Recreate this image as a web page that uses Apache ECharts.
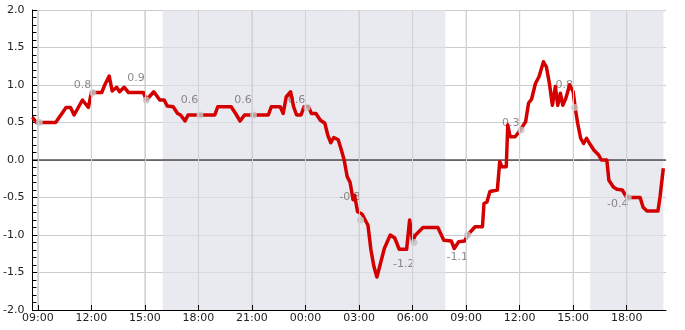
<!DOCTYPE html>
<html><head><meta charset="utf-8">
<script src="https://cdn.jsdelivr.net/npm/echarts@6/dist/echarts.min.js"></script>
<style>html,body{margin:0;padding:0;background:#fff}#c{width:685px;height:330px}</style>
</head><body><div id="c"></div>
<script>
// ---- data (day 1 / day 2, HH:MM) ----
const lineTimes = ['1 08:42','1 08:55','1 10:00','1 10:35','1 10:50','1 11:02','1 11:30','1 11:50','1 12:00','1 12:35','1 12:45','1 13:00','1 13:10','1 13:25','1 13:35','1 13:50','1 14:05','1 14:55','1 15:05','1 15:30','1 15:50','1 16:05','1 16:15','1 16:35','1 16:50','1 17:00','1 17:15','1 17:25','1 18:55','1 19:05','1 19:50','1 20:05','1 20:20','1 20:35','1 21:55','1 22:05','1 22:35','1 22:45','1 22:55','1 23:10','1 23:20','1 23:30','1 23:45','1 23:55','2 00:10','2 00:20','2 00:35','2 00:50','2 01:05','2 01:15','2 01:25','2 01:35','2 01:50','2 02:00','2 02:10','2 02:20','2 02:30','2 02:40','2 02:45','2 02:55','2 03:10','2 03:30','2 03:40','2 03:50','2 04:00','2 04:12','2 04:25','2 04:45','2 05:00','2 05:15','2 05:40','2 05:50','2 06:00','2 06:10','2 06:35','2 07:25','2 07:45','2 08:10','2 08:20','2 08:35','2 08:55','2 09:05','2 09:30','2 09:55','2 10:00','2 10:10','2 10:20','2 10:45','2 10:53','2 11:00','2 11:15','2 11:20','2 11:28','2 11:45','2 12:02','2 12:20','2 12:30','2 12:40','2 12:53','2 13:05','2 13:20','2 13:30','2 13:40','2 13:50','2 14:00','2 14:08','2 14:17','2 14:25','2 14:35','2 14:48','2 15:00','2 15:07','2 15:15','2 15:25','2 15:35','2 15:45','2 15:55','2 16:10','2 16:25','2 16:35','2 16:53','2 17:00','2 17:15','2 17:27','2 17:45','2 18:00','2 18:45','2 18:55','2 19:08','2 19:45','2 19:52','2 20:03'];
const lineValues = [0.57,0.5,0.5,0.7,0.7,0.6,0.8,0.7,0.9,0.9,1.0,1.12,0.92,0.97,0.91,0.97,0.9,0.9,0.8,0.91,0.8,0.8,0.72,0.71,0.62,0.6,0.52,0.6,0.6,0.71,0.71,0.62,0.52,0.6,0.6,0.71,0.71,0.62,0.84,0.91,0.71,0.6,0.6,0.71,0.71,0.62,0.62,0.53,0.49,0.33,0.23,0.3,0.27,0.14,0.0,-0.22,-0.3,-0.53,-0.47,-0.69,-0.72,-0.87,-1.2,-1.42,-1.56,-1.38,-1.18,-1.0,-1.04,-1.19,-1.19,-0.8,-1.08,-1.0,-0.9,-0.9,-1.07,-1.08,-1.18,-1.09,-1.08,-1.0,-0.89,-0.89,-0.58,-0.56,-0.42,-0.4,-0.02,-0.09,-0.09,0.47,0.31,0.31,0.4,0.51,0.76,0.81,1.02,1.11,1.31,1.24,1.02,0.73,0.98,0.73,0.89,0.73,0.82,1.0,0.91,0.69,0.49,0.29,0.22,0.29,0.22,0.13,0.07,0.0,0.0,-0.27,-0.36,-0.39,-0.4,-0.5,-0.5,-0.63,-0.68,-0.68,-0.49,-0.11];
const dotTimes = ['1 09:05','1 12:05','1 15:05','1 18:05','1 21:05','2 00:05','2 03:05','2 06:05','2 09:05','2 12:05','2 15:05','2 18:05'];
const dotValues = [0.5,0.9,0.8,0.6,0.6,0.7,-0.8,-1.1,-1.0,0.4,0.7,-0.5];
const labelTimes = ['1 11:30','1 14:30','1 17:30','1 20:30','1 23:30','2 02:30','2 05:30','2 08:30','2 11:30','2 14:30','2 17:30'];
const labelValues = [0.8,0.9,0.6,0.6,0.6,-0.3,-1.2,-1.1,0.3,0.8,-0.4];
const shadeStarts = ['1 16:00','2 15:57'];
const shadeEnds = ['2 07:50','2 20:03'];
const tickTimes = ['1 09:00','1 12:00','1 15:00','1 18:00','1 21:00','2 00:00','2 03:00','2 06:00','2 09:00','2 12:00','2 15:00','2 18:00'];
const axisMin = '1 08:42', axisMax = '2 20:12';
const yMin = -2, yMax = 2, yStep = 0.5;

function ts(s){ const d=+s[0]; const hm=s.slice(2).split(':'); return new Date(2024,0,d,+hm[0],+hm[1]).getTime(); }
function pad(n){ return (n<10?'0':'')+n; }
const FONT = 'DejaVu Sans';
const tickVals = tickTimes.map(ts);

const chart = echarts.init(document.getElementById('c'), null, {renderer:'canvas'});
chart.setOption({
  animation:false,
  grid:{left:31,right:19,top:10,bottom:20},
  xAxis:{
    type:'value', min:ts(axisMin), max:ts(axisMax), position:'bottom', z:10,
    axisLine:{show:true,onZero:false,lineStyle:{color:'#000',width:1}},
    axisTick:{show:true,inside:true,length:5,customValues:tickVals,lineStyle:{color:'#000'}},
    axisLabel:{color:'#222',fontSize:11,fontFamily:FONT,margin:3,customValues:tickVals,
      formatter:function(v){const d=new Date(v);return pad(d.getHours())+':'+pad(d.getMinutes());}},
    splitLine:{show:true,customValues:tickVals,lineStyle:{color:'#d2d2d6',width:1}}
  },
  yAxis:{
    type:'value', min:yMin, max:yMax, interval:yStep, z:0,
    axisLine:{show:true,onZero:false,lineStyle:{color:'#000'}},
    axisTick:{show:true,inside:true,length:5,lineStyle:{color:'#000'}},
    minorTick:{show:true,splitNumber:5,length:4,lineStyle:{color:'#000'}},
    axisLabel:{color:'#222',fontSize:11,fontFamily:FONT,margin:8,formatter:function(v){return v.toFixed(1);}},
    splitLine:{show:true,lineStyle:{color:'#cccccc',width:1}}
  },
  series:[
    { type:'custom', z:1,
      data:tickVals.map(v=>[v,0]), encode:{x:0,y:1},
      renderItem:function(params, api){
        const top = api.coord([api.value(0), yMax]);
        const bot = api.coord([api.value(0), yMin]);
        return {type:'line', shape:{x1:top[0],y1:top[1],x2:top[0],y2:bot[1]},
          style:{stroke:'#cccccc',lineWidth:1}};
      } },
    { type:'line', z:1, silent:true, symbol:'none', showSymbol:false,
      lineStyle:{color:'#000',width:1},
      data:[[ts(axisMin),0],[ts(axisMax),0]] },
    { type:'line', data:[], z:2, silent:true,
      markArea:{silent:true,itemStyle:{color:'rgba(224,224,234,0.7)'},
        data:shadeStarts.map((s,i)=>[{xAxis:ts(s)},{xAxis:ts(shadeEnds[i])}])} },
    { type:'scatter', z:3, symbolSize:0, silent:true,
      data:labelTimes.map((t,i)=>({value:[ts(t),labelValues[i]],
        label:{position:labelValues[i]<0?'bottom':'top'}})),
      label:{show:true,distance:9,color:'#6e6e6e',fontSize:11,fontFamily:FONT,
        formatter:function(p){return p.value[1].toFixed(1);}} },
    { type:'line', z:4, symbol:'none', showSymbol:false,
      lineStyle:{color:'#d40000',width:3.5,join:'round'},
      data:lineTimes.map((t,i)=>[ts(t),lineValues[i]]) },
    { type:'scatter', z:5, symbol:'circle', symbolSize:7,
      itemStyle:{color:'#c4c4c4'},
      data:dotTimes.map((t,i)=>[ts(t),dotValues[i]]) }
  ]
});
</script></body></html>
